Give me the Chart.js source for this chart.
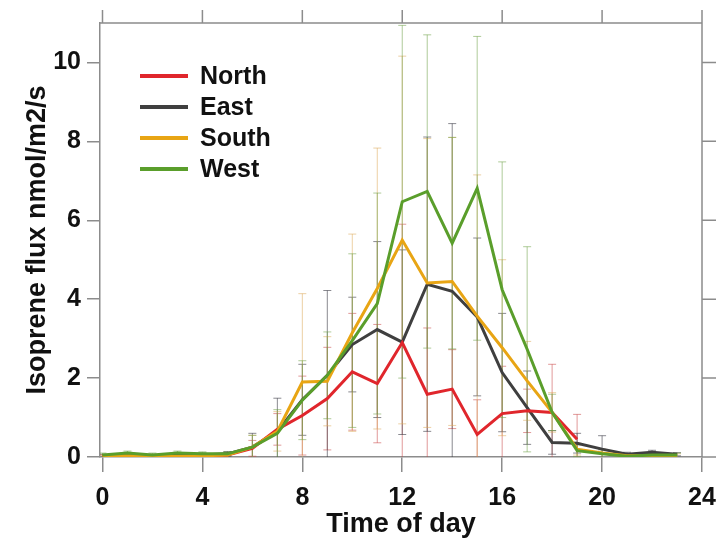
<!DOCTYPE html>
<html>
<head>
<meta charset="utf-8">
<script src="https://cdn.jsdelivr.net/npm/chart.js@4.4.1/dist/chart.umd.min.js"></script>
<style>
  html, body { margin: 0; padding: 0; background: #ffffff; }
  #wrap { width: 718px; height: 550px; }
</style>
</head>
<body>
<div id="wrap"><canvas id="c" width="718" height="550"></canvas></div>
<script>
// ---- data ----
const hours = [0,1,2,3,4,5,6,7,8,9,10,11,12,13,14,15,16,17,18,19,20,21,22,23];
const seriesNames = ["North", "East", "South", "West"];

const north = [0.02,0.03,0.02,0.01,0.02,0.05,0.22,0.7,1.05,1.48,2.16,1.86,2.9,1.59,1.72,0.57,1.1,1.17,1.13,0.45,null,null,null,null];
const east  = [0.03,0.05,0.03,0.05,0.05,0.08,0.25,0.65,1.45,2.07,2.85,3.23,2.91,4.38,4.2,3.55,2.14,1.25,0.37,0.35,0.2,0.07,0.12,0.07];
const south = [0.02,0.03,0.02,0.02,0.03,0.05,0.25,0.65,1.9,1.92,3.15,4.27,5.5,4.41,4.45,3.57,2.77,1.93,1.13,0.2,0.1,0.03,0.04,0.04];
const west  = [0.05,0.1,0.05,0.1,0.08,0.08,0.25,0.6,1.44,2.07,2.95,3.89,6.47,6.73,5.42,6.81,4.24,2.73,1.13,0.16,0.08,0.02,0.05,0.05];

const northSd = [0.03,0.03,0.03,0.03,0.03,0.05,0.2,0.4,1.0,1.3,1.48,1.5,3.0,1.68,1.0,0.88,1.2,0.55,1.22,0.63,null,null,null,null];
const eastSd  = [0.04,0.05,0.04,0.05,0.05,0.06,0.35,0.84,0.9,2.15,1.2,2.23,2.34,3.73,4.25,2.0,1.5,0.93,0.3,0.25,0.34,0.05,0.05,0.04];
const southSd = [0.03,0.03,0.03,0.03,0.03,0.05,0.3,0.5,2.24,1.13,2.5,3.56,4.66,3.66,3.65,3.58,2.23,1.0,0.5,0.15,0.1,0.03,0.04,0.04];
const westSd  = [0.05,0.05,0.05,0.05,0.05,0.05,0.3,0.6,1.0,1.1,2.2,2.8,4.47,3.97,2.68,3.85,3.24,2.6,0.46,0.15,0.1,0.03,0.05,0.05];

const xTicks = [0,4,8,12,16,20,24];
const yTicks = [0,2,4,6,8,10];

// ---- styles ----
const lineColors = ["#e0262c", "#3f3f3f", "#e8a514", "#5a9e2b"];
const barColors  = ["rgba(200,70,70,0.55)", "rgba(60,60,70,0.6)", "rgba(220,170,90,0.55)", "rgba(110,160,70,0.55)"];
const drawOrder  = [2, 3, 1, 0]; // West on top
const FONT = "'Liberation Sans', Arial, sans-serif";
const AXIS = "#8c8c8c";

const values = [north, east, south, west];
const sds = [northSd, eastSd, southSd, westSd];

const datasets = seriesNames.map((name, i) => ({
  label: name,
  data: hours.map((h, k) => ({ x: h, y: values[i][k] })),
  sd: sds[i],
  borderColor: lineColors[i],
  backgroundColor: lineColors[i],
  barColor: barColors[i],
  borderWidth: 3,
  pointRadius: 0,
  tension: 0,
  spanGaps: false,
  order: drawOrder[i]
}));

const errorBars = {
  id: 'errorBars',
  beforeDatasetsDraw(chart) {
    const { ctx, chartArea, scales: { x, y } } = chart;
    ctx.save();
    ctx.beginPath();
    ctx.rect(chartArea.left, chartArea.top - 1, chartArea.right - chartArea.left, chartArea.bottom - chartArea.top + 2);
    ctx.clip();
    ctx.lineWidth = 1;
    const cap = 4;
    chart.data.datasets.forEach((ds) => {
      ctx.strokeStyle = ds.barColor;
      ds.data.forEach((p, k) => {
        const s = ds.sd[k];
        if (p.y == null || s == null) return;
        const px = x.getPixelForValue(p.x);
        const top = y.getPixelForValue(p.y + s);
        const lo = Math.max(p.y - s, 0);
        const bot = y.getPixelForValue(lo);
        ctx.beginPath();
        ctx.moveTo(px, top); ctx.lineTo(px, bot);
        ctx.moveTo(px - cap, top); ctx.lineTo(px + cap, top);
        if (p.y - s > 0) { ctx.moveTo(px - cap, bot); ctx.lineTo(px + cap, bot); }
        ctx.stroke();
      });
    });
    ctx.restore();
  }
};

const frame = {
  id: 'frame',
  afterDraw(chart) {
    const { ctx, chartArea: a, scales: { x, y } } = chart;
    ctx.save();
    ctx.strokeStyle = AXIS;
    ctx.lineWidth = 1.5;
    ctx.beginPath();
    ctx.moveTo(a.left, a.top); ctx.lineTo(a.right, a.top); ctx.lineTo(a.right, a.bottom);
    xTicks.forEach(v => { const px = x.getPixelForValue(v); ctx.moveTo(px, a.top); ctx.lineTo(px, a.top - 13); });
    yTicks.forEach(v => { const py = y.getPixelForValue(v); ctx.moveTo(a.right, py); ctx.lineTo(a.right + 14, py); });
    ctx.stroke();

    // legend
    const lx0 = 140, lx1 = 188, tx = 200, ly0 = 76, dy = 31;
    ctx.font = "bold 25px " + FONT;
    ctx.textBaseline = 'middle';
    ctx.textAlign = 'left';
    chart.data.datasets.forEach((ds, i) => {
      const ly = ly0 + i * dy;
      ctx.strokeStyle = ds.borderColor;
      ctx.lineWidth = 4;
      ctx.beginPath(); ctx.moveTo(lx0, ly); ctx.lineTo(lx1, ly); ctx.stroke();
      ctx.fillStyle = '#111';
      ctx.fillText(ds.label, tx, ly + 1);
    });
    ctx.restore();
  }
};

new Chart(document.getElementById('c'), {
  type: 'line',
  data: { datasets },
  plugins: [errorBars, frame],
  options: {
    responsive: false,
    animation: false,
    devicePixelRatio: 1,
    layout: { padding: { top: 23, right: 16, left: 0, bottom: 0 } },
    plugins: { legend: { display: false }, tooltip: { enabled: false } },
    scales: {
      x: {
        type: 'linear', min: -0.1, max: 24,
        afterBuildTicks: s => { s.ticks = xTicks.map(v => ({ value: v })); },
        afterFit: s => { s.height = 93; s.paddingLeft = 0; s.paddingRight = 0; },
        grid: { drawOnChartArea: false, drawTicks: true, tickLength: 15, color: AXIS, lineWidth: 1.5 },
        border: { display: true, color: AXIS, width: 1.5 },
        ticks: { font: { family: FONT, size: 25, weight: 'bold' }, color: '#111', padding: 11, maxRotation: 0 },
        title: { display: true, text: 'Time of day', font: { family: FONT, size: 27, weight: 'bold' }, color: '#111', padding: { top: 0, bottom: 9 } }
      },
      y: {
        type: 'linear', min: 0, max: 11,
        afterBuildTicks: s => { s.ticks = yTicks.map(v => ({ value: v })); },
        afterFit: s => { s.width = 100; s.paddingTop = 0; s.paddingBottom = 0; },
        grid: { drawOnChartArea: false, drawTicks: true, tickLength: 13, color: AXIS, lineWidth: 1.5 },
        border: { display: true, color: AXIS, width: 1.5 },
        ticks: { font: { family: FONT, size: 25, weight: 'bold' }, color: '#111', padding: 6 },
        title: { display: true, text: 'Isoprene flux nmol/m2/s', font: { family: FONT, size: 27, weight: 'bold' }, color: '#111', padding: { top: 21, bottom: 0 } }
      }
    }
  }
});
</script>
</body>
</html>
